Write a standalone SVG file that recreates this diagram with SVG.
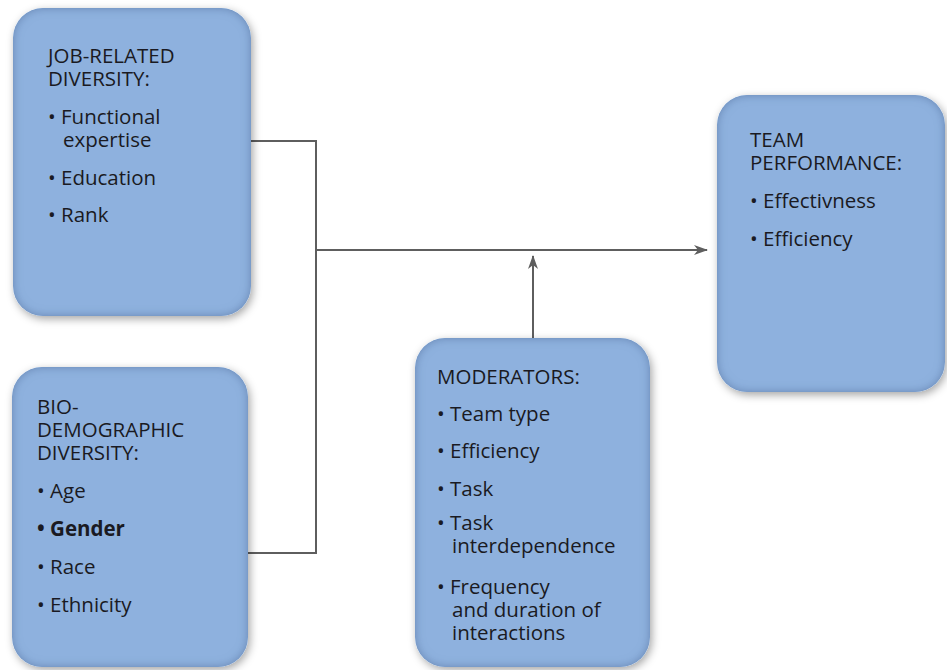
<svg xmlns="http://www.w3.org/2000/svg" width="947" height="670" viewBox="0 0 947 670">
<style>
.box{fill:#8eb1de;filter:url(#shade)}
.t{font-family:"Open Sans","Liberation Sans",sans-serif;font-size:20.5px;fill:#1a1a22}
.b{font-weight:bold}
.conn{fill:none;stroke:#5e5e5e;stroke-width:2}
</style>
<defs>
<filter id="shade" x="-10%" y="-10%" width="125%" height="125%">
<feGaussianBlur in="SourceAlpha" stdDeviation="4" result="ob"/>
<feOffset in="ob" dx="2" dy="3" result="off"/>
<feFlood flood-color="#000" flood-opacity="0.35"/>
<feComposite in2="off" operator="in" result="drop"/>
<feGaussianBlur in="SourceAlpha" stdDeviation="5" result="ib"/>
<feComposite in="SourceAlpha" in2="ib" operator="arithmetic" k2="1" k3="-1" result="edge"/>
<feFlood flood-color="#4f6f9f" flood-opacity="0.8"/>
<feComposite in2="edge" operator="in" result="inner"/>
<feMerge><feMergeNode in="drop"/><feMergeNode in="SourceGraphic"/><feMergeNode in="inner"/></feMerge>
</filter>
<marker id="arr" viewBox="0 0 14 10" refX="13" refY="5" markerWidth="14" markerHeight="10" markerUnits="userSpaceOnUse" orient="auto">
<path d="M0,0 L14,5 L0,10 L4,5 Z" fill="#5e5e5e"/>
</marker>
</defs>
<g id="connectors">
<polyline class="conn" points="251,141 316,141 316,553 248,553"/>
<line class="conn" x1="316" y1="250" x2="707" y2="250" marker-end="url(#arr)"/>
<line class="conn" x1="533" y1="338" x2="533" y2="256" marker-end="url(#arr)"/>
</g>
<g id="job-related">
<rect class="box" x="13" y="8" width="238" height="308" rx="30"/>
<text class="t" x="48" y="63">JOB-RELATED</text>
<text class="t" x="48" y="86">DIVERSITY:</text>
<text class="t" x="48" y="124">• Functional</text>
<text class="t" x="63" y="147">expertise</text>
<text class="t" x="48" y="185">• Education</text>
<text class="t" x="48" y="222">• Rank</text>
</g>
<g id="bio-demographic">
<rect class="box" x="12" y="367" width="236" height="300" rx="30"/>
<text class="t" x="37" y="414">BIO-</text>
<text class="t" x="37" y="437">DEMOGRAPHIC</text>
<text class="t" x="37" y="460">DIVERSITY:</text>
<text class="t" x="37" y="498">• Age</text>
<text class="t b" x="37" y="536">• Gender</text>
<text class="t" x="37" y="574">• Race</text>
<text class="t" x="37" y="612">• Ethnicity</text>
</g>
<g id="moderators">
<rect class="box" x="415" y="338" width="235" height="329" rx="30"/>
<text class="t" x="437" y="384">MODERATORS:</text>
<text class="t" x="437" y="421">• Team type</text>
<text class="t" x="437" y="458">• Efficiency</text>
<text class="t" x="437" y="496">• Task</text>
<text class="t" x="437" y="530">• Task</text>
<text class="t" x="452" y="553">interdependence</text>
<text class="t" x="437" y="594">• Frequency</text>
<text class="t" x="452" y="617">and duration of</text>
<text class="t" x="452" y="640">interactions</text>
</g>
<g id="team-performance">
<rect class="box" x="717" y="95" width="228" height="297" rx="30"/>
<text class="t" x="750" y="147">TEAM</text>
<text class="t" x="750" y="170">PERFORMANCE:</text>
<text class="t" x="750" y="208">• Effectivness</text>
<text class="t" x="750" y="246">• Efficiency</text>
</g>
</svg>
